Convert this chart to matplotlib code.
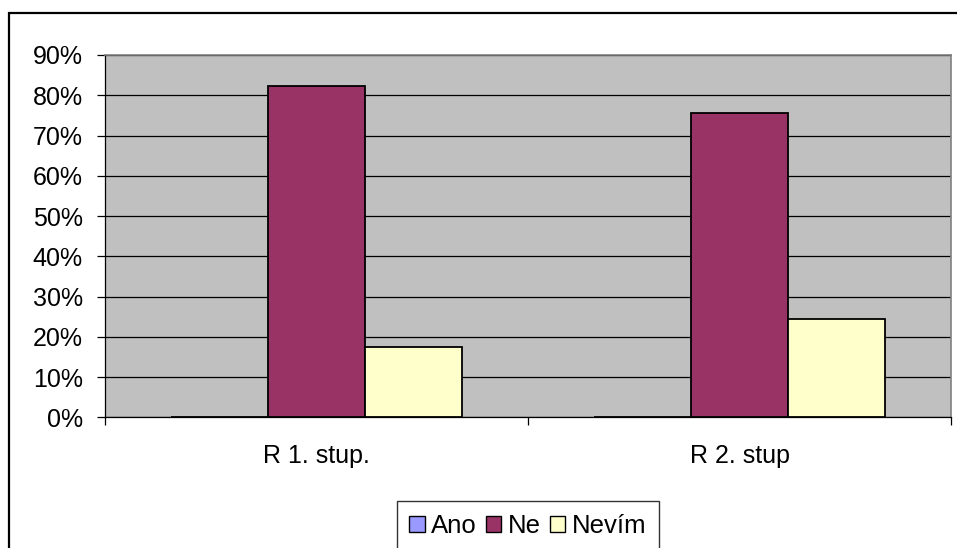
import numpy as np
import matplotlib.pyplot as plt
from matplotlib.patches import Rectangle, Patch
from matplotlib.ticker import PercentFormatter

plt.rcParams['font.family'] = ['Liberation Sans', 'DejaVu Sans']

# data
categories = ['R 1. stup.', 'R 2. stup']
series = ['Ano', 'Ne', 'Nevím']
ano = [0.0, 0.0]
ne = [0.824, 0.755]
nevim = [0.174, 0.243]
colors = ['#9999FF', '#993366', '#FFFFCC']

W, H = 957, 548
fig = plt.figure(figsize=(W / 100, H / 100), dpi=100)

# outer chart border (right and bottom lie outside the picture)
fig.patches.append(Rectangle((9 / W, -0.1), 1.2, 1 - 13 / H + 0.1,
                             transform=fig.transFigure, fill=False,
                             edgecolor='black', linewidth=1.6))

ax = fig.add_axes([105 / W, (H - 417.3) / H, 846 / W, 362.3 / H])
ax.set_facecolor('#C0C0C0')

x = np.arange(len(categories)) + 0.5
bw = 0.229
for i, (vals, c) in enumerate(zip([ano, ne, nevim], colors)):
    ax.bar(x + (i - 1) * bw, vals, width=bw, color=c, edgecolor='black',
           linewidth=1.3, zorder=3)

ax.set_xlim(0, 2)
ax.set_ylim(0, 0.9)
ax.set_yticks(np.arange(0, 0.91, 0.1))
ax.yaxis.set_major_formatter(PercentFormatter(1.0, decimals=0))
ax.yaxis.grid(True, color='black', linewidth=0.9, zorder=1)
ax.set_axisbelow(True)

ax.set_xticks(x)
ax.set_xticklabels(categories)
ax.set_xticks([0, 1, 2], minor=True)
ax.tick_params(axis='x', which='major', length=0, pad=19, labelsize=18)
ax.tick_params(axis='x', which='minor', length=6, width=0.9, direction='out')
ax.tick_params(axis='y', length=6, width=0.9, direction='out', pad=10, labelsize=18)

for s in ['top', 'right']:
    ax.spines[s].set_color('#808080')
    ax.spines[s].set_linewidth(1.2)
for s in ['left', 'bottom']:
    ax.spines[s].set_color('black')
    ax.spines[s].set_linewidth(0.9)

handles = [Patch(facecolor=c, edgecolor='black', linewidth=1.0) for c in colors]
leg = fig.legend(handles, series, loc='upper center',
                 bbox_to_anchor=(527.8 / W, 1 - 501 / H), ncol=3,
                 fontsize=18.5, frameon=True, fancybox=False,
                 handlelength=0.6, handleheight=0.6, handletextpad=0.25,
                 columnspacing=0.35, borderpad=0.5, borderaxespad=0)
leg.get_frame().set_edgecolor('black')
leg.get_frame().set_linewidth(1.0)

fig.savefig('out.png', dpi=100)
